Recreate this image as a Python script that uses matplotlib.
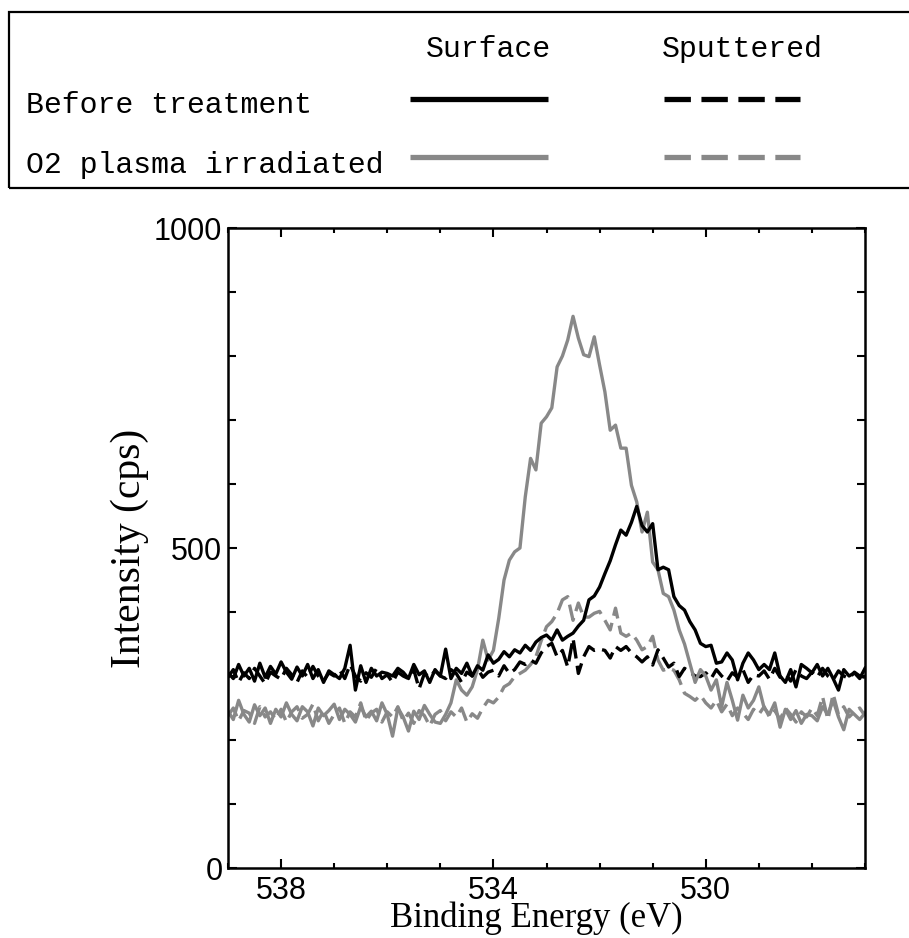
import numpy as np
import matplotlib
matplotlib.use("Agg")
import matplotlib.pyplot as plt
from matplotlib.lines import Line2D
from matplotlib.patches import Rectangle
from matplotlib.ticker import MultipleLocator

# ---------------- data ----------------
energy = np.linspace(539.0, 527.0, 121)   # binding energy grid (eV), 0.1 eV step

before_surface = [
    305, 296, 318, 300, 312, 292, 320, 298, 315, 303,
    322, 306, 295, 314, 300, 318, 296, 310, 290, 308,
    302, 296, 312, 348, 278, 316, 290, 312, 300, 306,
    304, 300, 312, 306, 296, 318, 302, 308, 290, 310,
    300, 342, 296, 312, 304, 320, 300, 316, 309, 333,
    320, 326, 338, 330, 341, 336, 348, 340, 353, 360,
    364, 356, 372, 356, 362, 367, 378, 387, 419, 425,
    439, 460, 480, 505, 528, 520, 540, 565, 535, 525,
    538, 466, 470, 466, 424, 410, 403, 385, 372, 351,
    346, 348, 320, 322, 336, 325, 294, 320, 336, 325,
    310, 318, 310, 336, 300, 290, 310, 283, 318, 312,
    305, 318, 300, 312, 296, 278, 310, 300, 305, 296, 312]

before_sputtered = [
    298, 310, 290, 305, 296, 312, 300, 288, 306, 300,
    295, 312, 302, 290, 308, 298, 315, 300, 292, 305,
    300, 310, 296, 318, 300, 292, 305, 298, 312, 296,
    302, 290, 306, 300, 296, 310, 280, 304, 298, 308,
    300, 296, 310, 304, 290, 306, 300, 312, 298, 306,
    309, 300, 316, 304, 310, 322, 318, 325, 320, 336,
    346, 351, 330, 340, 314, 359, 304, 330, 346, 340,
    342, 340, 328, 346, 340, 346, 336, 330, 322, 330,
    317, 341, 328, 314, 320, 299, 312, 306, 300, 299,
    305, 296, 310, 300, 292, 305, 298, 310, 290, 302,
    300, 308, 295, 312, 298, 304, 292, 310, 300, 296,
    306, 298, 312, 300, 294, 308, 300, 296, 306, 300, 298]

o2_surface = [
    245, 232, 262, 240, 228, 255, 238, 250, 226, 248,
    236, 258, 240, 230, 252, 244, 222, 250, 238, 246,
    256, 232, 248, 240, 228, 252, 236, 245, 230, 258,
    240, 206, 250, 236, 214, 245, 232, 254, 240, 228,
    226, 240, 258, 294, 278, 270, 283, 310, 356, 325,
    340, 390, 450, 481, 494, 500, 580, 640, 622, 695,
    705, 719, 783, 800, 825, 862, 828, 802, 799, 830,
    786, 744, 684, 692, 656, 656, 598, 572, 525, 556,
    478, 466, 429, 424, 403, 372, 350, 320, 290, 310,
    300, 278, 294, 252, 290, 262, 231, 270, 250, 262,
    283, 250, 240, 258, 220, 248, 232, 246, 226, 240,
    238, 230, 252, 240, 262, 236, 216, 248, 240, 232, 242]

o2_sputtered = [
    238, 250, 230, 246, 242, 226, 252, 236, 244, 232,
    248, 228, 244, 252, 234, 240, 256, 230, 246, 226,
    240, 250, 226, 244, 236, 258, 230, 242, 248, 228,
    244, 236, 252, 230, 242, 226, 246, 238, 222, 240,
    246, 230, 244, 236, 250, 228, 241, 234, 250, 262,
    258, 267, 283, 288, 299, 304, 309, 318, 330, 355,
    377, 385, 398, 419, 424, 387, 414, 392, 392, 398,
    401, 387, 372, 406, 367, 362, 367, 356, 341, 346,
    362, 325, 309, 312, 309, 294, 273, 268, 262, 270,
    258, 250, 262, 244, 256, 238, 250, 242, 232, 248,
    240, 252, 236, 246, 232, 250, 240, 228, 244, 236,
    250, 238, 268, 232, 272, 240, 252, 236, 244, 250, 238]

row_labels = ["Before treatment", "O2 plasma irradiated"]
col_labels = ["Surface", "Sputtered"]
x_major_ticks = [538, 534, 530]
y_major_ticks = [0, 500, 1000]

BLACK = "#000000"
GREY = "#888888"

# ---------------- figure ----------------
W, H = 909, 938
fig = plt.figure(figsize=(W / 100, H / 100), dpi=100)

def fx(px):
    return px / W

def fy(py):
    return 1 - py / H

ax = fig.add_axes([fx(228), fy(868), fx(865) - fx(228), fy(228) - fy(868)])

lw = 2.4
dash = (5.5, 2.2)
ax.plot(energy, o2_sputtered, color=GREY, lw=lw, dashes=dash)
ax.plot(energy, before_sputtered, color=BLACK, lw=lw, dashes=dash)
ax.plot(energy, o2_surface, color=GREY, lw=lw)
ax.plot(energy, before_surface, color=BLACK, lw=lw)

ax.set_xlim(539, 527)
ax.set_ylim(0, 1000)
ax.set_xticks(x_major_ticks)
ax.set_xticklabels([str(v) for v in x_major_ticks])
ax.set_yticks(y_major_ticks)
ax.set_yticklabels([str(v) for v in y_major_ticks])
ax.xaxis.set_minor_locator(MultipleLocator(1))
ax.yaxis.set_minor_locator(MultipleLocator(100))

for s in ax.spines.values():
    s.set_linewidth(1.8)

ax.tick_params(which="both", direction="in", top=True, right=True, width=1.5)
ax.tick_params(axis="x", which="major", length=6.5, pad=5.5)
ax.tick_params(axis="x", which="minor", length=3.5)
ax.tick_params(axis="y", which="major", length=6.5, pad=4)
ax.tick_params(axis="y", which="minor", length=5.8)

tick_family = ["Liberation Sans", "DejaVu Sans"]
for lab in ax.get_xticklabels() + ax.get_yticklabels():
    lab.set_fontfamily(tick_family)
    lab.set_fontsize(22)

serif = ["Liberation Serif", "DejaVu Serif"]
ax.set_xlabel("Binding Energy (eV)", va="center", family=serif, size=25)
ax.set_ylabel("Intensity (cps)", va="center", family=serif, size=30)
ax.xaxis.set_label_coords(0.4835, -0.0790)
ax.yaxis.set_label_coords(-0.154, 0.5)

# ---------------- legend box ----------------
fig.patches.append(Rectangle((fx(9), fy(188)), 1.2, fy(12) - fy(188),
                             transform=fig.transFigure, fill=False,
                             edgecolor="black", lw=1.6, clip_on=False))

leg_font = dict(family=["Liberation Mono", "DejaVu Sans Mono"], size=21.5)
fig.text(fx(488), fy(57), col_labels[0], ha="center", va="baseline", **leg_font)
fig.text(fx(742), fy(57), col_labels[1], ha="center", va="baseline", **leg_font)
fig.text(fx(26), fy(113), row_labels[0], ha="left", va="baseline", **leg_font)
fig.text(fx(26), fy(173), row_labels[1], ha="left", va="baseline", **leg_font)

leg_lw = 3.8
leg_dash = (5, 2)
fig.lines.append(Line2D([fx(410), fx(548)], [fy(99), fy(99)], transform=fig.transFigure,
                        color=BLACK, lw=leg_lw, solid_capstyle="butt"))
fig.lines.append(Line2D([fx(664), fx(800)], [fy(99), fy(99)], transform=fig.transFigure,
                        color=BLACK, lw=leg_lw, dashes=leg_dash, dash_capstyle="butt"))
fig.lines.append(Line2D([fx(410), fx(548)], [fy(157), fy(157)], transform=fig.transFigure,
                        color=GREY, lw=leg_lw, solid_capstyle="butt"))
fig.lines.append(Line2D([fx(664), fx(800)], [fy(157), fy(157)], transform=fig.transFigure,
                        color=GREY, lw=leg_lw, dashes=leg_dash, dash_capstyle="butt"))

fig.savefig("out.png", dpi=100)
